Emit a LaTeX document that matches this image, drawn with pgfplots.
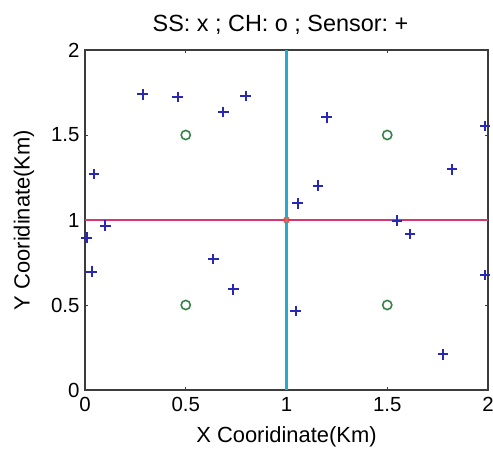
\documentclass[border=0pt]{standalone}
\usepackage{fontspec}
\setmainfont{Liberation Sans}
\usepackage{pgfplots}
\pgfplotsset{compat=1.18}
\definecolor{sensorblue}{RGB}{40,40,180}
\definecolor{chgreen}{RGB}{55,130,75}
\definecolor{vcyan}{RGB}{35,170,205}
\definecolor{hred}{RGB}{215,55,110}
\definecolor{ssorange}{RGB}{240,95,60}
\definecolor{framegray}{RGB}{60,60,60}
\begin{document}
\begin{tikzpicture}
\begin{axis}[
  at={(0,0)}, anchor=south west,
  scale only axis, width=403bp, height=340bp,
  xmin=0, xmax=2, ymin=0, ymax=2,
  xtick={0,0.5,1,1.5,2}, ytick={0,0.5,1,1.5,2},
  xticklabels={0,0.5,1,1.5,2}, yticklabels={0,0.5,1,1.5,2},
  tick align=inside, major tick length=3bp,
  tick style={framegray, line width=0.8bp},
  axis line style={framegray, line width=1.3bp},
  every tick label/.append style={font=\fontsize{20.5}{24}\selectfont, text=black},
  xticklabel style={yshift=-4bp},
  yticklabel style={xshift=-2bp},
  /pgf/number format/assume math mode=true,
  title={SS:\ x\ ;\ CH:\ o\ ;\ Sensor:\ +},
  title style={font=\fontsize{23.5}{27}\selectfont, yshift=6bp, xshift=-6bp},
  xlabel={X Cooridinate(Km)},
  ylabel={Y Cooridinate(Km)},
  label style={font=\fontsize{22}{26}\selectfont},
  xlabel style={yshift=-8bp},
  ylabel style={yshift=10bp},
  clip=false,
]
\addplot[vcyan, line width=2.5bp] coordinates {(1,0) (1,2)};
\addplot[hred, line width=2.5bp] coordinates {(0,1) (2,1)};
\addplot[only marks, mark=+, mark size=5.2bp, draw=sensorblue, mark options={draw=sensorblue, line width=1.9bp}] coordinates {
(0.286,1.739) (0.460,1.722) (0.687,1.637) (0.797,1.731) (1.199,1.604)
(1.985,1.553) (0.046,1.269) (1.820,1.298) (1.155,1.202) (1.055,1.098)
(0.101,0.967) (0.008,0.896) (1.547,0.996) (1.613,0.916) (0.033,0.696)
(0.637,0.769) (0.736,0.592) (1.045,0.465) (1.985,0.676) (1.778,0.210)
};
\addplot[only marks, mark=o, mark size=4.6bp, draw=chgreen, mark options={draw=chgreen, line width=1.6bp}] coordinates {
(0.5,1.5) (1.5,1.5) (0.5,0.5) (1.5,0.5)
};
\addplot[only marks, mark=x, mark size=3.5bp, draw=ssorange, mark options={draw=ssorange, line width=1.6bp}] coordinates {(1,1)};
\end{axis}
\pgfresetboundingbox
\useasboundingbox (-85bp,-60bp) rectangle (408bp,390bp);
\end{tikzpicture}
\end{document}
